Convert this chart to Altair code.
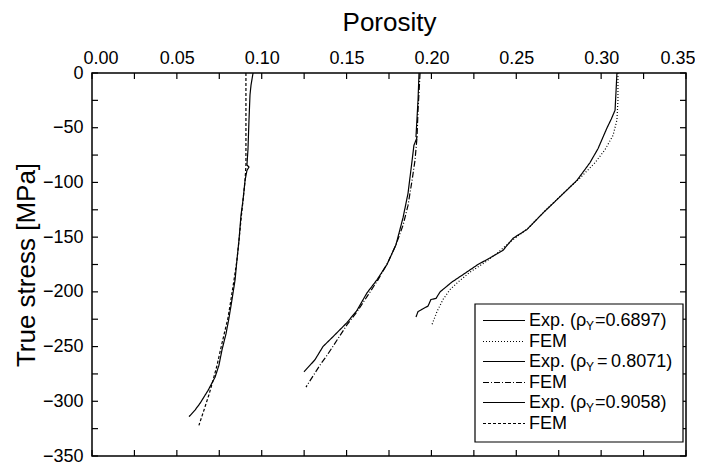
import altair as alt
import pandas as pd

# ---- data (porosity, true stress MPa) ----
exp1_por = [0.0949, 0.0937, 0.0931, 0.0925, 0.0919, 0.0913, 0.0925, 0.0913, 0.0902, 0.0890, 0.0878, 0.0866,
            0.0854, 0.0843, 0.0825, 0.0807, 0.0790, 0.0766, 0.0748, 0.0725, 0.0684, 0.0636, 0.0607, 0.0572]
exp1_str = [0, -11, -20, -43, -70, -84, -86, -89, -98, -116, -130, -153,
            -171, -189, -207, -224, -238, -253, -267, -278, -290, -302, -308, -314]
fem1_por = [0.0907, 0.0907, 0.0907, 0.0902, 0.0890, 0.0878, 0.0866, 0.0854, 0.0837, 0.0819, 0.0801, 0.0778,
            0.0754, 0.0737, 0.0713, 0.0689, 0.0660, 0.0630]
fem1_str = [0, -43, -84, -98, -116, -134, -153, -171, -189, -207, -224, -239,
            -255, -267, -281, -294, -308, -322]

exp2_por = [0.1927, 0.1921, 0.1909, 0.1915, 0.1897, 0.1886, 0.1862, 0.1833, 0.1791, 0.1738, 0.1679, 0.1620,
            0.1561, 0.1503, 0.1420, 0.1361, 0.1314, 0.1285, 0.1249]
exp2_str = [0, -25, -58, -59, -66, -80, -110, -132, -157, -175, -189, -201,
            -217, -228, -241, -250, -262, -267, -273]
fem2_por = [0.1933, 0.1921, 0.1915, 0.1903, 0.1886, 0.1862, 0.1833, 0.1791, 0.1744, 0.1685, 0.1626, 0.1567,
            0.1503, 0.1444, 0.1385, 0.1343, 0.1302, 0.1261]
fem2_str = [0, -34, -59, -80, -98, -121, -139, -157, -173, -189, -203, -217,
            -230, -244, -258, -267, -277, -287]

exp3_por = [0.3093, 0.3088, 0.3082, 0.3060, 0.3035, 0.2982, 0.2934, 0.2858, 0.2758, 0.2657, 0.2563, 0.2481,
            0.2422, 0.2345, 0.2274, 0.2198, 0.2121, 0.2051, 0.2027, 0.1997, 0.1980, 0.1944, 0.1921, 0.1909]
exp3_str = [0, -16, -34, -42, -50, -69, -82, -98, -113, -128, -143, -151,
            -162, -169, -175, -183, -191, -200, -206, -207, -213, -216, -218, -223]
fem3_por = [0.3099, 0.3099, 0.3093, 0.3070, 0.3023, 0.2964, 0.2875, 0.2769, 0.2669, 0.2569, 0.2475, 0.2392,
            0.2316, 0.2227, 0.2157, 0.2109, 0.2068, 0.2033, 0.2003]
fem3_str = [0, -25, -43, -57, -70, -82, -96, -111, -126, -142, -153, -164,
            -173, -182, -191, -198, -207, -218, -230]

series_names = ["exp_0.6897", "fem_0.6897", "exp_0.8071", "fem_0.8071", "exp_0.9058", "fem_0.9058"]
series_dash = [[1, 0], [1, 2], [1, 0], [6, 2, 1, 2], [1, 0], [3, 2]]

legend_part1 = ["Exp. (ρ", "FEM", "Exp. (ρ", "FEM", "Exp. (ρ", "FEM"]
legend_sub = ["Y", "", "Y", "", "Y", ""]
legend_part3 = ["=0.6897)", "", "=\u20090.8071)", "", "=0.9058)", ""]

x_ticks = [i * 0.025 for i in range(15)]
y_ticks = [-25 * i for i in range(15)]
x_labels = [0.0, 0.05, 0.10, 0.15, 0.20, 0.25, 0.30, 0.35]
y_labels = [0, -50, -100, -150, -200, -250, -300, -350]

# ---- build table ----
curves = [(exp3_por, exp3_str), (fem3_por, fem3_str), (exp2_por, exp2_str),
          (fem2_por, fem2_str), (exp1_por, exp1_str), (fem1_por, fem1_str)]
rows = []
for name, (px, py) in zip(series_names, curves):
    for i, (a, b) in enumerate(zip(px, py)):
        rows.append({"porosity": a, "stress": b, "series": name, "idx": i})
df = pd.DataFrame(rows)

W, H = 594, 383
FONT = "Liberation Sans"
xscale = alt.Scale(domain=[0, 0.35], nice=False, zero=False)
yscale = alt.Scale(domain=[-350, 0], nice=False, zero=False)
xaxis = alt.Axis(orient="top", title="Porosity", values=x_labels, format=".2f",
                 labelFontSize=18, titleFontSize=26, labelPadding=6, titlePadding=14,
                 labelFlush=True, labelFlushOffset=9,
                 labelFont=FONT, titleFont=FONT, titleFontWeight="normal")
yaxis = alt.Axis(title="True stress [MPa]", values=y_labels, format="d",
                 labelFontSize=18, titleFontSize=26, labelPadding=9, titlePadding=3,
                 labelFont=FONT, titleFont=FONT, titleFontWeight="normal")

lines = alt.Chart(df).mark_line(color="black", strokeWidth=1.2).encode(
    x=alt.X("porosity:Q", scale=xscale, axis=xaxis, title="Porosity"),
    y=alt.Y("stress:Q", scale=yscale, axis=yaxis, title="True stress [MPa]"),
    strokeDash=alt.StrokeDash("series:N", scale=alt.Scale(domain=series_names, range=series_dash),
                              legend=None),
    order="idx:Q",
)

xt = pd.DataFrame({"porosity": x_ticks})
yt = pd.DataFrame({"stress": y_ticks})
TL = 6
tick_top = alt.Chart(xt).mark_rule(color="black", strokeWidth=1.2).encode(
    x=alt.X("porosity:Q", scale=xscale, title="Porosity"), y=alt.value(0), y2=alt.value(TL))
tick_bot = alt.Chart(xt).mark_rule(color="black", strokeWidth=1.2).encode(
    x=alt.X("porosity:Q", scale=xscale, title="Porosity"), y=alt.value(H), y2=alt.value(H - TL))
tick_left = alt.Chart(yt).mark_rule(color="black", strokeWidth=1.2).encode(
    y=alt.Y("stress:Q", scale=yscale, title="True stress [MPa]"), x=alt.value(0), x2=alt.value(TL))
tick_right = alt.Chart(yt).mark_rule(color="black", strokeWidth=1.2).encode(
    y=alt.Y("stress:Q", scale=yscale, title="True stress [MPa]"), x=alt.value(W), x2=alt.value(W - TL))

# ---- custom legend ----
LX0, LX1, LY0, LY1 = 383, 591, 231, 369
row_y = [247.5, 268.5, 288.5, 309.5, 329.5, 350.5]
part3_x = [503, 0, 505, 0, 503, 0]
box = alt.Chart(pd.DataFrame({"a": [0]})).mark_rect(
    fill="white", stroke="black", strokeWidth=1.2).encode(
    x=alt.value(LX0), x2=alt.value(LX1), y=alt.value(LY0), y2=alt.value(LY1))
legend_layers = [box]
for i in range(6):
    legend_layers.append(
        alt.Chart(pd.DataFrame({"a": [0]})).mark_rule(
            color="black", strokeWidth=1.2, strokeDash=series_dash[i]).encode(
            x=alt.value(391), x2=alt.value(433), y=alt.value(row_y[i])))
    legend_layers.append(
        alt.Chart(pd.DataFrame({"t": [legend_part1[i]]})).mark_text(
            align="left", baseline="middle", fontSize=18, font=FONT).encode(
            text="t:N", x=alt.value(437), y=alt.value(row_y[i])))
    if legend_sub[i]:
        legend_layers.append(
            alt.Chart(pd.DataFrame({"t": [legend_sub[i]]})).mark_text(
                align="left", baseline="middle", fontSize=12, font=FONT).encode(
                text="t:N", x=alt.value(437 + 57), y=alt.value(row_y[i] + 5)))
        legend_layers.append(
            alt.Chart(pd.DataFrame({"t": [legend_part3[i]]})).mark_text(
                align="left", baseline="middle", fontSize=18, font=FONT).encode(
                text="t:N", x=alt.value(part3_x[i]), y=alt.value(row_y[i])))

chart = alt.layer(lines, tick_top, tick_bot, tick_left, tick_right, *legend_layers).properties(
    width=W, height=H,
    padding={"left": 84, "top": 65, "right": 9, "bottom": 10},
    autosize=alt.AutoSizeParams(type="none"),
).configure_view(stroke="black", strokeWidth=1.5).configure_axis(
    domain=False, ticks=False, grid=False, labelColor="black", titleColor="black")

chart.save("out.html", embed_options={"renderer": "svg", "actions": False})
